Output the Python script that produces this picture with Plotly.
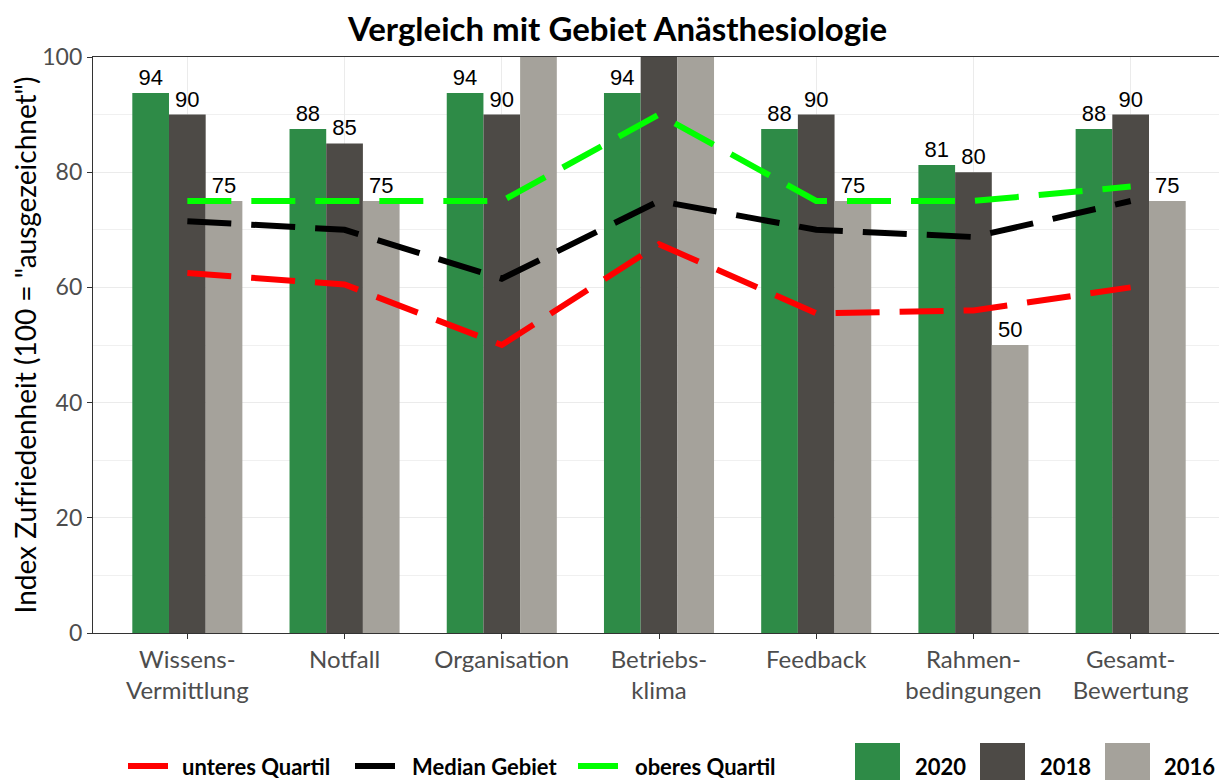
import plotly.graph_objects as go

# categories and values
categories = ["Wissens-<br>Vermittlung", "Notfall", "Organisation", "Betriebs-<br>klima",
              "Feedback", "Rahmen-<br>bedingungen", "Gesamt-<br>Bewertung"]

values_2020 = [93.75, 87.5, 93.75, 93.75, 87.5, 81.25, 87.5]
values_2018 = [90, 85, 90, 100, 90, 80, 90]
values_2016 = [75, 75, 100, 100, 75, 50, 75]

unteres_quartil = [62.5, 60.5, 50, 67.5, 55.5, 56, 60]
median_gebiet = [71.5, 70, 61.5, 75, 70, 68.75, 75]
oberes_quartil = [75, 75, 75, 90, 75, 75, 77.5]

years = ["2020", "2018", "2016"]
bar_colors = ["#2e8b47", "#4d4a46", "#a5a29b"]
line_names = ["unteres Quartil", "Median Gebiet", "oberes Quartil"]
line_colors = ["#ff0000", "#000000", "#00ff00"]

# the page body has an 8px margin, so the figure is a bit smaller than the window
OFF = 8
W, H = 1227 - OFF, 780 - OFF
L, R, T, B = 93 - OFF, 2, 57 - OFF, 147
PW, PH = W - L - R, H - T - B


def px_x(p):
    # screen pixel -> paper coordinate
    return (p - OFF - L) / PW


def px_y(p):
    return (H - B - (p - OFF)) / PH


def labels(vals):
    # labels of bars reaching the top are clipped in the original
    return [str(int(v + 0.5)) if v < 100 else "" for v in vals]


fig = go.Figure()

for name, vals, col in zip(years, [values_2020, values_2018, values_2016], bar_colors):
    fig.add_trace(go.Bar(
        x=categories, y=vals, name=name, marker_color=col, marker_line_width=0,
        text=labels(vals), textposition="outside", cliponaxis=True,
        textfont=dict(family="Liberation Sans, Arial", size=22, color="black"),
        showlegend=False,
    ))

for name, vals, col in zip(line_names, [unteres_quartil, median_gebiet, oberes_quartil], line_colors):
    fig.add_trace(go.Scatter(
        x=categories, y=vals, name=name, mode="lines",
        line=dict(color=col, width=6, dash="44px,20px"),
        showlegend=False,
    ))

# legend drawn underneath the plot, like the original
legend_font = dict(family="Lato", size=22, color="black", weight="bold")
leg_y = 766
line_keys = [(128, 168, 180), (355, 395, 410), (578, 618, 633)]
for (x0, x1, tx), name, col in zip(line_keys, line_names, line_colors):
    fig.add_shape(type="line", xref="paper", yref="paper",
                  x0=px_x(x0), x1=px_x(x1), y0=px_y(leg_y), y1=px_y(leg_y),
                  line=dict(color=col, width=6))
    fig.add_annotation(xref="paper", yref="paper", x=px_x(tx), y=px_y(leg_y),
                       text=name, showarrow=False, xanchor="left", yanchor="middle",
                       font=legend_font)

bar_keys = [(855, 900, 913), (980, 1025, 1038), (1105, 1150, 1162)]
for (x0, x1, tx), name, col in zip(bar_keys, years, bar_colors):
    fig.add_shape(type="rect", xref="paper", yref="paper",
                  x0=px_x(x0), x1=px_x(x1), y0=px_y(743), y1=px_y(782),
                  fillcolor=col, line_width=0)
    fig.add_annotation(xref="paper", yref="paper", x=px_x(tx), y=px_y(leg_y),
                       text=name, showarrow=False, xanchor="left", yanchor="middle",
                       font=legend_font)

fig.update_layout(
    width=W, height=H,
    margin=dict(l=L, r=R, t=T, b=B, autoexpand=False),
    paper_bgcolor="white", plot_bgcolor="white",
    barmode="group", bargap=0.3, bargroupgap=0,
    showlegend=False,
    title=dict(text="<b>Vergleich mit Gebiet Anästhesiologie</b>", x=0.5, xanchor="center",
               y=1 - (29 - OFF) / H, yanchor="middle",
               font=dict(family="Lato", size=33, color="black")),
)

fig.update_xaxes(
    showline=True, mirror=True, linecolor="#333333", linewidth=1.2,
    showgrid=True, gridcolor="#ebebeb", gridwidth=1.2,
    ticks="outside", ticklen=5, tickcolor="#333333",
    tickfont=dict(family="Lato", size=24, color="#4d4d4d"),
    range=[-0.6, 6.6],
)
fig.update_yaxes(
    range=[0, 100], dtick=20,
    showline=True, mirror=True, linecolor="#333333", linewidth=1.2,
    showgrid=True, gridcolor="#ebebeb", gridwidth=1.2,
    minor=dict(dtick=10, showgrid=True, gridcolor="#f0f0f0", gridwidth=1),
    ticks="outside", ticklen=5, tickcolor="#333333",
    tickfont=dict(family="Lato", size=23, color="#4d4d4d"),
    title=dict(text='Index Zufriedenheit (100 = "ausgezeichnet")',
               font=dict(family="Lato", size=28, color="black"), standoff=6),
    zeroline=False,
)

fig.write_html("out.html")
